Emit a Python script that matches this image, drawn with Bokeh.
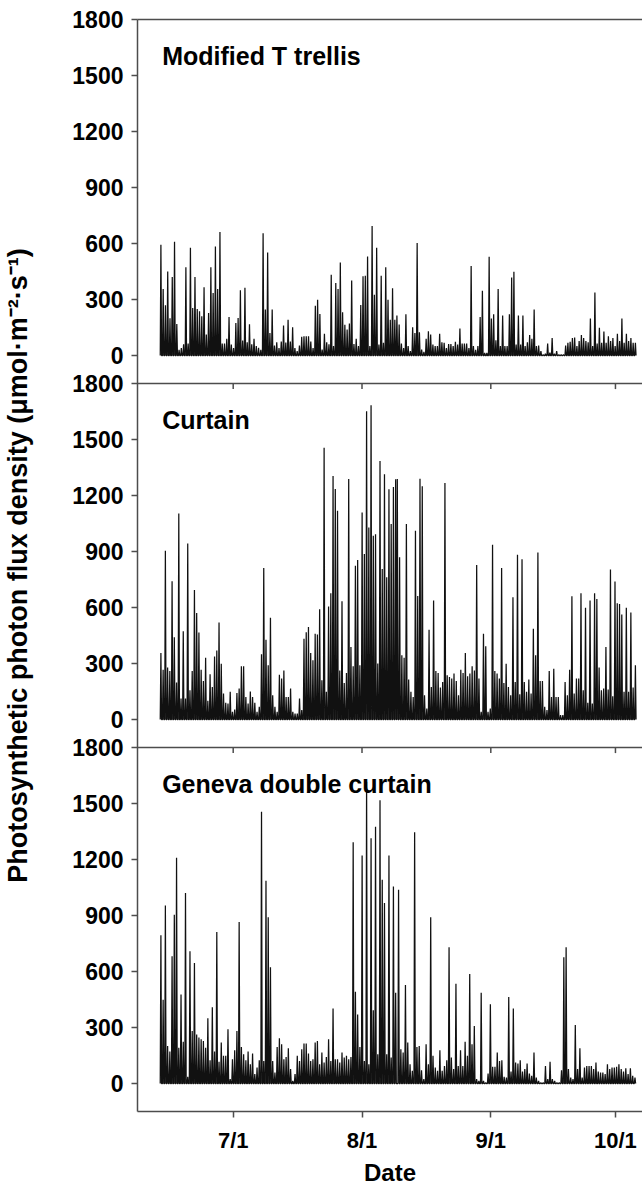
import numpy as np
from bokeh.plotting import figure
from bokeh.models import Range1d, LinearAxis, FixedTicker, Span, Label
from bokeh.embed import file_html
from bokeh.resources import INLINE

FONT = "Liberation Sans"
AXIS_COL = "#4d4d4d"

# x values are days after 1 June
month_tick_days = [30, 61, 92, 122]
month_tick_labels = ["7/1", "8/1", "9/1", "10/1"]
ppfd_ticks = [0, 300, 600, 900, 1200, 1500, 1800]
ppfd_floor = -150
ppfd_ceiling = 1800

titles = ["Modified T trellis", "Curtain", "Geneva double curtain"]
y_title = "Photosynthetic photon flux density (\u03bcmol\u00b7m\u207b\u00b2\u00b7s\u207b\u00b9)"
x_title = "Date"

# readings (µmol m-2 s-1), evenly spaced in time within each span (days after 1 June)
mt_days_a = (12.6, 68.9)
mt_ppfd_a = [593, 356, 269, 450, 199, 420, 609, 169, 30, 40, 60, 473, 64, 577, 255, 420, 249, 237, 210, 365,
             112, 228, 473, 335, 584, 356, 662, 64, 64, 89, 206, 59, 40, 174, 201, 349, 80, 363, 71, 167,
             60, 89, 50, 41, 30, 655, 246, 552, 121, 246, 53, 71, 40, 75, 160, 70, 192, 75, 151, 40,
             23, 53, 100, 103, 103, 103, 75, 40, 267, 299, 222, 32, 117, 71, 60, 432, 50, 388, 356, 498,
             231, 165, 139, 171, 402, 62, 89, 50, 271, 424, 427, 530, 50, 694, 326, 577, 59, 427, 68, 473,
             299, 192, 360, 192]
mt_days_b = (69.4, 126.8)
mt_ppfd_b = [214, 166, 64, 40, 221, 50, 23, 151, 121, 602, 125, 32, 20, 89, 130, 112, 59, 50, 50, 117,
             71, 68, 40, 62, 62, 50, 73, 59, 144, 64, 64, 64, 40, 480, 50, 30, 50, 206, 347, 14,
             14, 529, 198, 221, 82, 356, 50, 214, 50, 50, 221, 418, 449, 59, 214, 59, 214, 50, 71, 110,
             89, 246, 50, 53, 23, 5, 10, 64, 15, 94, 10, 23, 5, 5, 5, 53, 68, 73, 93, 96,
             50, 77, 110, 93, 77, 71, 198, 50, 338, 64, 148, 68, 128, 68, 103, 77, 94, 50, 116, 77,
             198, 68, 117, 77, 94, 68, 68]
cu_days_a = (12.6, 69.1)
cu_ppfd_a = [356, 267, 904, 278, 260, 740, 441, 198, 1104, 112, 473, 112, 943, 157, 260, 694, 570, 466, 267, 206,
             331, 100, 242, 174, 338, 370, 520, 299, 139, 89, 85, 148, 41, 53, 142, 166, 285, 285, 121, 85,
             150, 121, 89, 41, 68, 349, 812, 427, 290, 545, 130, 68, 41, 240, 219, 263, 121, 121, 166, 41,
             32, 32, 112, 50, 433, 468, 495, 356, 317, 459, 456, 591, 210, 1456, 148, 605, 676, 1305, 1235, 1118,
             263, 634, 196, 249, 1289, 388, 285, 824, 854, 290, 1109, 886, 1652, 1029, 1684, 984, 993, 300, 1385, 806,
             1314, 762, 1234, 1047, 1246, 1287]
cu_days_b = (69.5, 126.8)
cu_ppfd_b = [1289, 869, 344, 331, 1047, 214, 148, 121, 1011, 662, 1290, 1250, 130, 59, 481, 174, 637, 260, 249, 171,
             201, 1267, 237, 228, 219, 246, 206, 130, 267, 249, 356, 231, 246, 285, 263, 828, 219, 41, 459, 392,
             41, 59, 936, 260, 246, 219, 812, 196, 299, 174, 130, 655, 201, 883, 135, 858, 201, 148, 214, 139,
             486, 344, 895, 206, 206, 68, 50, 260, 121, 272, 121, 121, 23, 23, 201, 130, 267, 660, 139, 219,
             219, 676, 157, 598, 89, 637, 85, 676, 646, 278, 157, 166, 388, 160, 803, 125, 739, 623, 619, 562,
             148, 598, 148, 573, 171, 290]
gdc_days_a = (12.6, 69.1)
gdc_ppfd_a = [794, 449, 954, 201, 171, 682, 904, 1210, 192, 477, 224, 1020, 36, 708, 281, 646, 263, 246, 237, 228,
              192, 349, 125, 409, 171, 812, 117, 219, 148, 148, 290, 23, 130, 178, 281, 865, 196, 157, 125, 171,
              103, 160, 50, 85, 125, 1456, 121, 1086, 890, 623, 121, 59, 196, 242, 210, 130, 142, 189, 77, 14,
              50, 148, 121, 183, 214, 214, 160, 121, 130, 219, 228, 103, 166, 112, 142, 237, 121, 402, 130, 130,
              112, 166, 139, 148, 130, 142, 1292, 491, 370, 196, 1221, 121, 1616, 103, 1314, 392, 1376, 157, 1518, 1091,
              967, 157, 1221, 139, 1056, 486]
gdc_days_b = (69.8, 126.7)
gdc_ppfd_b = [1038, 183, 166, 527, 219, 103, 68, 1346, 196, 201, 71, 23, 210, 103, 890, 148, 85, 68, 178, 68,
              94, 125, 730, 139, 77, 534, 94, 178, 94, 224, 148, 587, 210, 308, 23, 14, 486, 14, 5, 53,
              424, 89, 89, 166, 121, 125, 36, 32, 463, 64, 402, 112, 107, 125, 64, 77, 107, 53, 41, 166,
              32, 14, 5, 5, 94, 23, 117, 23, 14, 5, 5, 71, 676, 730, 77, 32, 23, 313, 77, 189,
              32, 85, 94, 94, 94, 77, 112, 64, 59, 59, 50, 103, 77, 85, 85, 89, 103, 77, 64, 82,
              50, 82, 41, 32]

panels = [
    [(mt_days_a, mt_ppfd_a), (mt_days_b, mt_ppfd_b)],
    [(cu_days_a, cu_ppfd_a), (cu_days_b, cu_ppfd_b)],
    [(gdc_days_a, gdc_ppfd_a), (gdc_days_b, gdc_ppfd_b)],
]

n = len(panels)
band = ppfd_ceiling - ppfd_floor

p = figure(width=642, height=1188,
           x_range=Range1d(6.967, 128.51),
           y_range=Range1d(ppfd_floor, ppfd_ceiling + (n - 1) * band),
           output_backend="svg", toolbar_location=None,
           min_border_left=137, min_border_right=0, min_border_top=19, min_border_bottom=73)
p.outline_line_color = None
p.grid.visible = False
p.background_fill_color = "white"

# y axis (one set of ticks per stacked panel, sharing the left spine)
all_ticks, overrides = [], {}
for k in range(n):
    off = (n - 1 - k) * band
    for t in ppfd_ticks:
        all_ticks.append(t + off)
        overrides[t + off] = str(t)
ya = p.yaxis[0]
ya.ticker = FixedTicker(ticks=all_ticks)
ya.major_label_overrides = overrides
ya.major_tick_out = 6
ya.major_tick_in = 0
ya.minor_tick_out = 0
ya.minor_tick_in = 0
ya.major_label_standoff = 8
ya.major_label_text_font = FONT
ya.major_label_text_font_style = "bold"
ya.major_label_text_font_size = "23px"
ya.major_label_text_color = "black"
ya.axis_line_color = AXIS_COL
ya.axis_line_width = 1.5
ya.major_tick_line_color = AXIS_COL
ya.major_tick_line_width = 1.5
ya.axis_label = y_title
ya.axis_label_text_font = FONT
ya.axis_label_text_font_style = "bold"
ya.axis_label_text_font_size = "27px"
ya.axis_label_text_color = "black"
ya.axis_label_standoff = 36

xa = p.xaxis[0]
xa.ticker = FixedTicker(ticks=month_tick_days)
xa.major_label_overrides = dict(zip(month_tick_days, month_tick_labels))
xa.major_tick_out = 6
xa.major_tick_in = 0
xa.minor_tick_out = 0
xa.minor_tick_in = 0
xa.major_label_standoff = 10
xa.major_label_text_font = FONT
xa.major_label_text_font_style = "bold"
xa.major_label_text_font_size = "22px"
xa.major_label_text_color = "black"
xa.axis_line_color = AXIS_COL
xa.axis_line_width = 1.5
xa.major_tick_line_color = AXIS_COL
xa.major_tick_line_width = 1.5
xa.axis_label = x_title
xa.axis_label_text_font = FONT
xa.axis_label_text_font_style = "bold"
xa.axis_label_text_font_size = "24px"
xa.axis_label_text_color = "black"
xa.axis_label_standoff = 3

top = LinearAxis(ticker=FixedTicker(ticks=[]), major_tick_out=0, major_tick_in=0,
                 minor_tick_out=0, minor_tick_in=0, major_label_text_font_size="0px",
                 major_label_standoff=0, axis_line_color=AXIS_COL, axis_line_width=1.5)
p.add_layout(top, "above")


def spikes(span, vals, half=0.16):
    t = np.linspace(span[0], span[1], len(vals))
    v = np.asarray(vals, dtype=float)
    z = np.zeros_like(v)
    xs = np.column_stack([t - half, t, t + half]).ravel()
    ys = np.column_stack([z, v, z]).ravel()
    return xs, ys


for k, series in enumerate(panels):
    off = (n - 1 - k) * band
    name = "panel%d" % k
    p.extra_y_ranges[name] = Range1d(ppfd_floor - off, ppfd_ceiling + (n - 1) * band - off)
    xs_all, ys_all = [], []
    for span, vals in series:
        xs, ys = spikes(span, vals)
        xs_all.append(xs)
        ys_all.append(ys)
    p.line(np.concatenate(xs_all), np.concatenate(ys_all), y_range_name=name,
           line_color="#111111", line_width=1.25)
    p.add_layout(Label(x=12.9, y=1603, y_range_name=name, text=titles[k],
                       text_font=FONT, text_font_style="bold", text_font_size="25px",
                       text_color="black", text_baseline="alphabetic"))
    if k > 0:
        p.add_layout(Span(location=ppfd_ceiling, dimension="width", y_range_name=name,
                          line_color=AXIS_COL, line_width=1.5))
        p.segment(x0=month_tick_days, y0=[ppfd_ceiling] * len(month_tick_days),
                  x1=month_tick_days, y1=[ppfd_ceiling - 30] * len(month_tick_days),
                  y_range_name=name, line_color=AXIS_COL, line_width=1.5)

open("out.html", "w").write(file_html(p, INLINE))
